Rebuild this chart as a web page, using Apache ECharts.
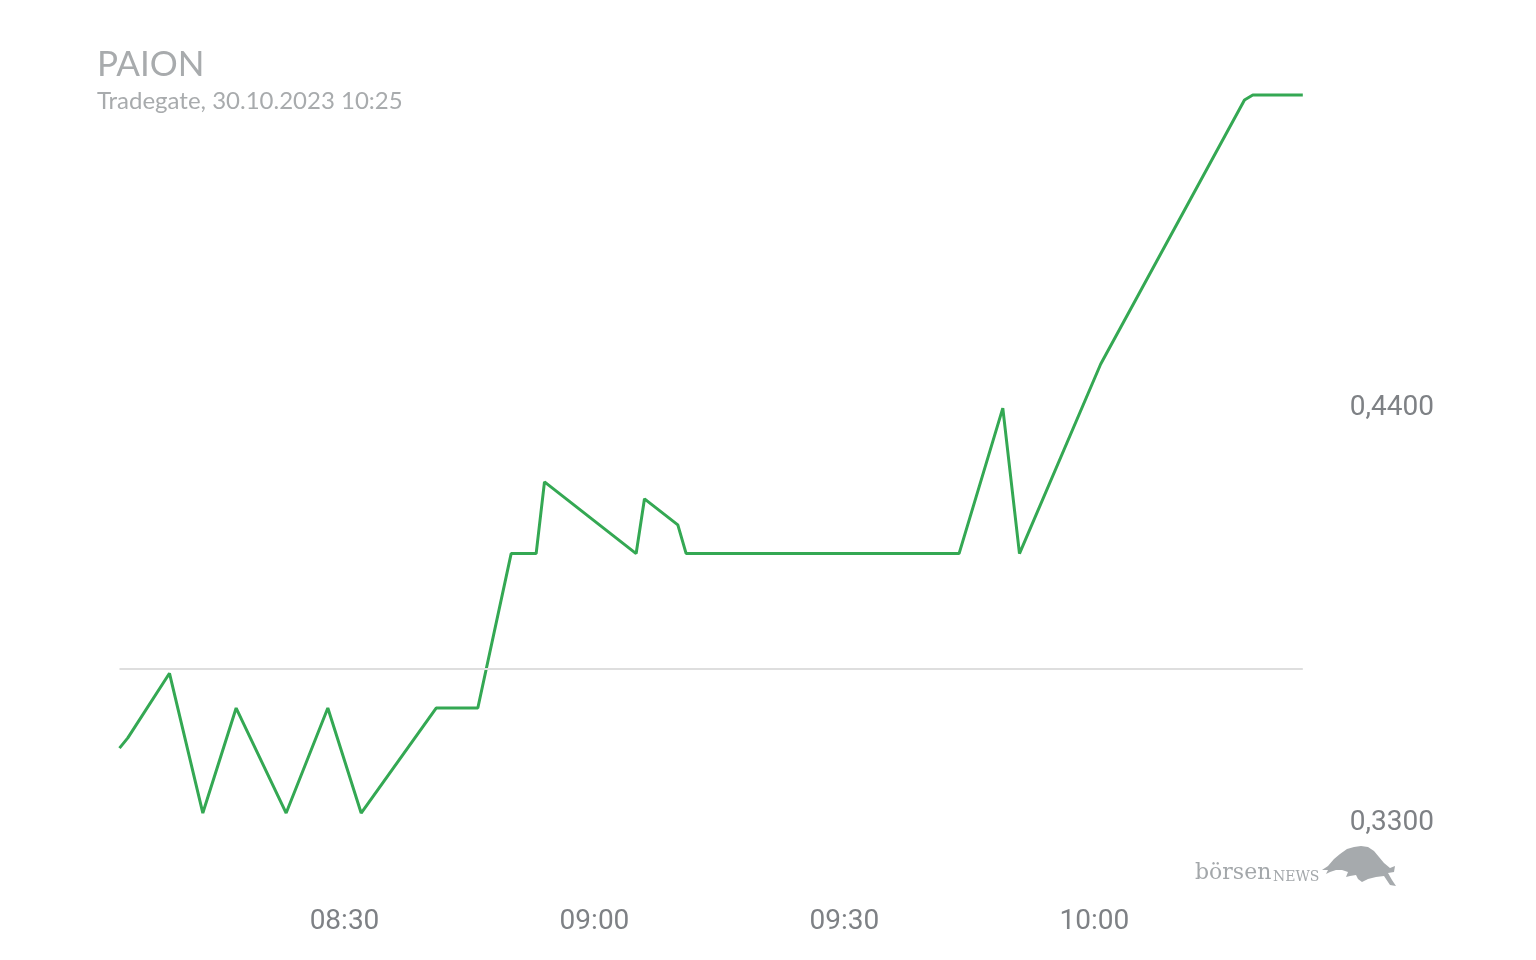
<!DOCTYPE html>
<html>
<head>
<meta charset="utf-8">
<script src="https://cdn.jsdelivr.net/npm/echarts@6/dist/echarts.min.js"></script>
<style>
html,body{margin:0;padding:0;background:#fff;}
#chart{width:1536px;height:960px;}
</style>
</head>
<body>
<div id="chart"></div>
<script>
const title = "PAION";
const subtitle = "Tradegate, 30.10.2023 10:25";
const times = ["08:03","08:04","08:09","08:13","08:17","08:23","08:28","08:32","08:41","08:46",
  "08:50","08:53","08:54","09:05","09:06","09:10","09:11","09:43:45","09:49","09:51",
  "10:00:45","10:18","10:19","10:25"];
const prices = [0.3489,0.3516,0.3687,0.3317,0.3595,0.3317,0.3595,0.3317,0.3595,0.3595,
  0.4004,0.4004,0.4194,0.4004,0.4149,0.4080,0.4004,0.4004,0.4389,0.4004,
  0.4506,0.5205,0.5218,0.5218];
const prevClose = 0.3702;
const xTickLabels = ["08:30","09:00","09:30","10:00"];
const yTickLabels = [0.33, 0.44];

function toMin(s){const p=s.split(':').map(Number);return p[0]*60+p[1]+(p[2]||0)/60;}
function fmtTime(m){const h=Math.floor(m/60),mm=Math.round(m%60);return String(h).padStart(2,'0')+':'+String(mm).padStart(2,'0');}

const data = times.map((t,i)=>[toMin(t), prices[i]]);
const labelColor = '#7e8185';
const font = 'Roboto';

const bull = [[0,24],[6,20],[12,13],[18,8],[25,3],[32,1],[39,0],[46,1],[52,5],[57,11],[62,17],[68,22],[73,20],[72,26],[66,27],[70,34],[74,40],[68,39],[62,30],[54,31],[46,33],[40,36],[36,33],[34,29],[28,30],[24,31],[26,26],[20,24],[14,24],[8,26],[4,28],[6,24]];

const chart = echarts.init(document.getElementById('chart'), null, {renderer:'canvas'});
chart.setOption({
  animation:false,
  backgroundColor:'#ffffff',
  grid:{left:119.5, right:233.2, top:64.1, bottom:65, containLabel:false},
  xAxis:{
    type:'value',
    min:toMin(times[0]), max:toMin(times[times.length-1]),
    axisLine:{show:false}, axisTick:{show:false}, splitLine:{show:false},
    axisLabel:{
      customValues: xTickLabels.map(toMin),
      formatter:(v)=>fmtTime(v),
      color:labelColor, fontFamily:font, fontSize:28, margin:13
    }
  },
  yAxis:{
    type:'value', position:'right',
    min:0.31, max:0.53,
    axisLine:{show:false}, axisTick:{show:false}, splitLine:{show:false},
    axisLabel:{
      customValues: yTickLabels,
      formatter:(v)=>'{a|'+v.toFixed(4).replace('.',',')+'}',
      color:labelColor, fontFamily:font, fontSize:28, margin:47,
      rich:{a:{color:labelColor, fontFamily:font, fontSize:28, padding:[7,0,0,0]}}
    }
  },
  series:[{
    type:'line',
    data:data,
    showSymbol:false,
    symbol:'none',
    lineStyle:{color:'#34a853', width:3},
    itemStyle:{color:'#34a853'},
    z:3,
    markLine:{
      silent:true,
      symbol:['none','none'],
      label:{show:false},
      lineStyle:{color:'#dedede', width:2, type:'solid'},
      data:[{yAxis:prevClose}]
    }
  }],
  graphic:[
    {type:'text', x:97, y:47, style:{text:title, fill:'#a8abad', font:'35px Lato'}},
    {type:'text', x:97, y:89, style:{text:subtitle, fill:'#a8abad', font:'24px Lato'}},
    {type:'text', x:1195, y:862, style:{text:'börsen', fill:'#a3a7aa', font:'22px "DejaVu Serif"'}},
    {type:'text', x:1273, y:870, style:{text:'NEWS', fill:'#a3a7aa', font:'14px "DejaVu Serif"'}},
    {type:'polygon', x:1322, y:846, shape:{points:bull}, style:{fill:'#a6aaad'}}
  ]
});
</script>
</body>
</html>
